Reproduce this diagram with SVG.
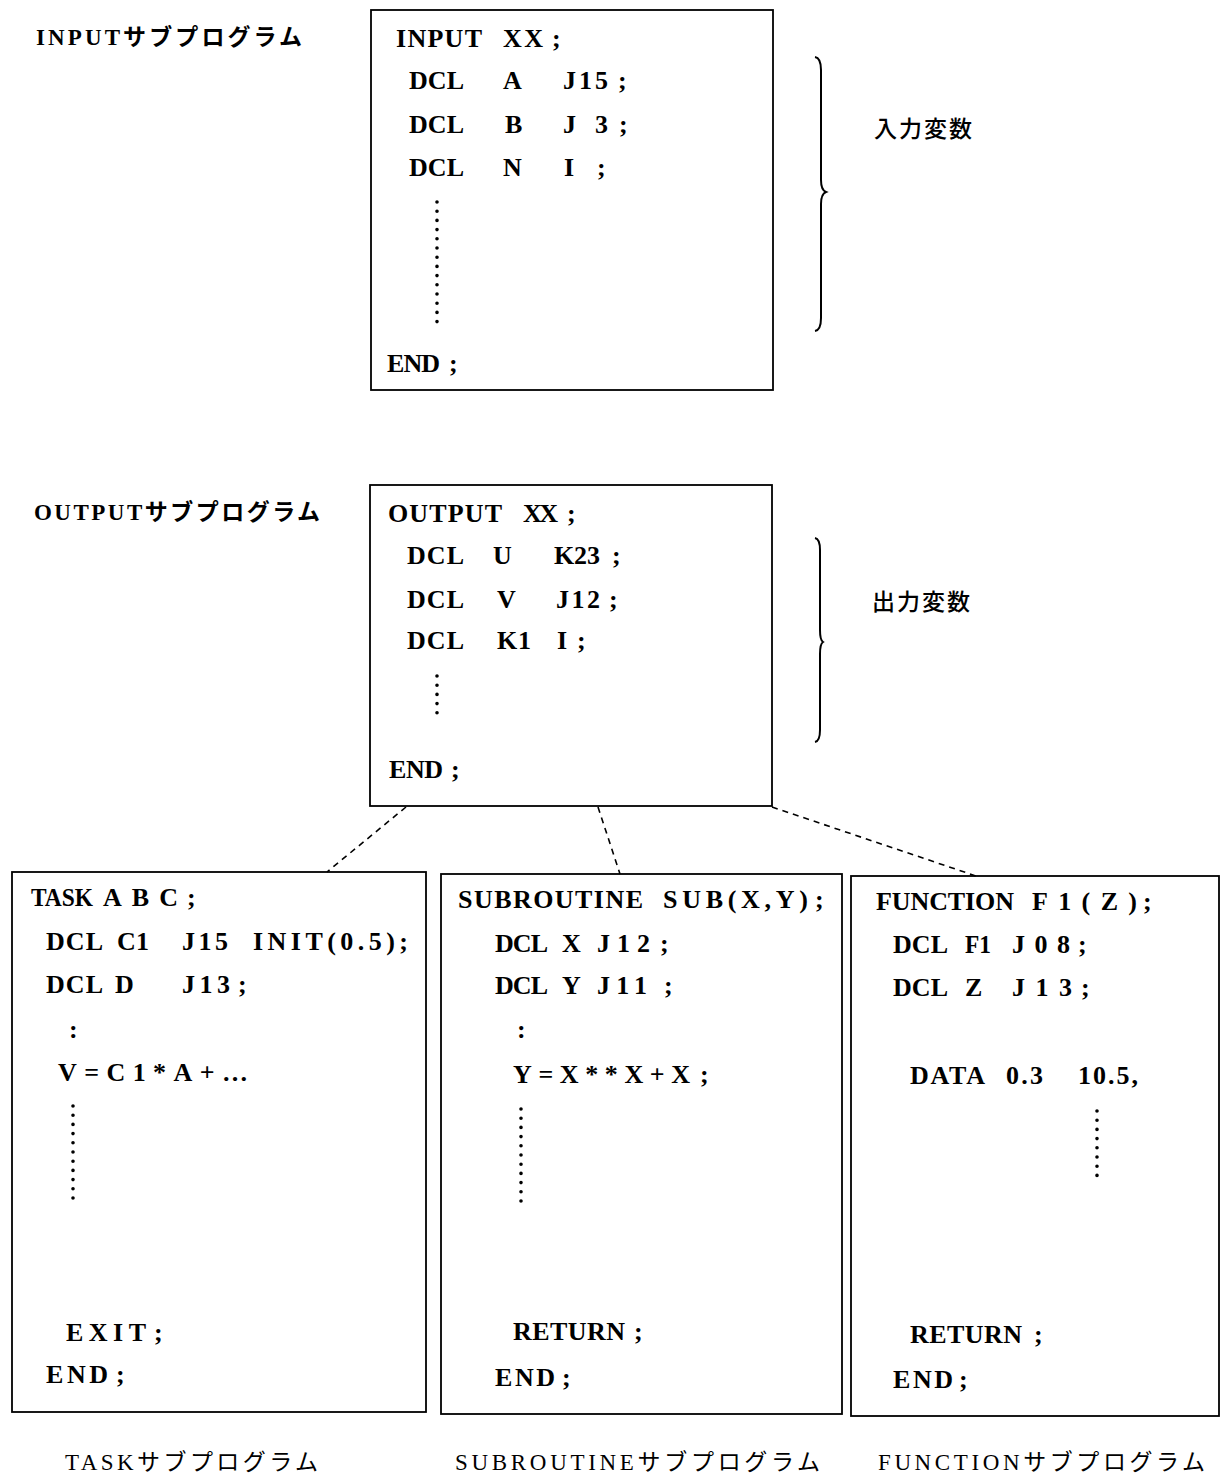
<svg xmlns="http://www.w3.org/2000/svg" width="1224" height="1475" viewBox="0 0 1224 1475">
<style>
.bg{fill:#fff}
.box{fill:none;stroke:#000;stroke-width:1.8}
.c{font-family:"Liberation Serif","Noto Sans CJK JP",serif;font-size:26px;font-weight:bold;fill:#000}
.lbl{font-family:"Liberation Serif","Noto Sans CJK JP",serif;font-size:23px;font-weight:bold;fill:#000}
.lbl2{font-family:"Liberation Serif","Noto Sans CJK JP",serif;font-size:23px;font-weight:normal;fill:#000}
.jp{font-family:"Noto Sans CJK JP",sans-serif;font-size:23px;font-weight:500;fill:#000}
.dots{fill:none;stroke:#000;stroke-width:3.6;stroke-linecap:round;stroke-dasharray:0 9.2}
.brace{fill:none;stroke:#000;stroke-width:2}
.conn{fill:none;stroke:#000;stroke-width:1.6;stroke-dasharray:6 5}
</style>
<rect class="bg" x="0" y="0" width="1224" height="1475"/>

<g id="connectors">
<line class="conn" x1="406" y1="807" x2="327" y2="872"/>
<line class="conn" x1="598" y1="807" x2="620" y2="874"/>
<line class="conn" x1="772" y1="807" x2="976" y2="876"/>
</g>

<g id="input">
<text class="lbl" x="36" y="45" textLength="266" lengthAdjust="spacing">INPUTサブプログラム</text>
<rect class="box" x="371" y="10" width="402" height="380"/>
<text class="c" x="396" y="47" textLength="86">INPUT</text>
<text class="c" x="503" y="47" textLength="40">XX</text>
<text class="c" x="552" y="47">;</text>
<text class="c" x="409" y="89" textLength="55">DCL</text>
<text class="c" x="503" y="89">A</text>
<text class="c" x="563" y="89" textLength="45">J15</text>
<text class="c" x="618" y="89">;</text>
<text class="c" x="409" y="133" textLength="55">DCL</text>
<text class="c" x="505" y="133">B</text>
<text class="c" x="563" y="133">J</text>
<text class="c" x="595" y="133">3</text>
<text class="c" x="619" y="133">;</text>
<text class="c" x="409" y="176" textLength="55">DCL</text>
<text class="c" x="503" y="176">N</text>
<text class="c" x="564" y="176">I</text>
<text class="c" x="597" y="176">;</text>
<line class="dots" x1="437" y1="202" x2="437" y2="326"/>
<text class="c" x="387" y="372" textLength="53">END</text>
<text class="c" x="449" y="372">;</text>
<path class="brace" d="M815,57 Q821,58 821,70 L821,180 Q821,190 826,192 Q821,194 821,204 L821,318 Q821,330 815,331"/>
<text class="jp" x="874" y="137" textLength="98" lengthAdjust="spacing">入力変数</text>
</g>

<g id="output">
<text class="lbl" x="34" y="520" textLength="286" lengthAdjust="spacing">OUTPUTサブプログラム</text>
<rect class="box" x="370" y="485" width="402" height="321"/>
<text class="c" x="388" y="522" textLength="114">OUTPUT</text>
<text class="c" x="523" y="522" textLength="35">XX</text>
<text class="c" x="567" y="522">;</text>
<text class="c" x="407" y="564" textLength="57">DCL</text>
<text class="c" x="493" y="564">U</text>
<text class="c" x="554" y="564" textLength="46">K23</text>
<text class="c" x="612" y="564">;</text>
<text class="c" x="407" y="608" textLength="57">DCL</text>
<text class="c" x="497" y="608">V</text>
<text class="c" x="556" y="608" textLength="44">J12</text>
<text class="c" x="609" y="608">;</text>
<text class="c" x="407" y="649" textLength="57">DCL</text>
<text class="c" x="497" y="649" textLength="34">K1</text>
<text class="c" x="557" y="649">I</text>
<text class="c" x="577" y="649">;</text>
<line class="dots" x1="437" y1="676" x2="437" y2="720"/>
<text class="c" x="389" y="778" textLength="54">END</text>
<text class="c" x="451" y="778">;</text>
<path class="brace" d="M815,538 Q820,539 820,550 L820,630 Q820,640 823,642 Q820,644 820,654 L820,730 Q820,741 815,742"/>
<text class="jp" x="872" y="610" textLength="98" lengthAdjust="spacing">出力変数</text>
</g>

<g id="task">
<rect class="box" x="12" y="872" width="414" height="540"/>
<text class="c" x="31" y="906" textLength="62" lengthAdjust="spacingAndGlyphs">TASK</text>
<text class="c" x="103" y="906" textLength="75">ABC</text>
<text class="c" x="187" y="906">;</text>
<text class="c" x="46" y="950" textLength="57">DCL</text>
<text class="c" x="117" y="950" textLength="32">C1</text>
<text class="c" x="182" y="950" textLength="46">J15</text>
<text class="c" x="253" y="950" textLength="155">INIT(0.5);</text>
<text class="c" x="46" y="993" textLength="57">DCL</text>
<text class="c" x="115" y="993">D</text>
<text class="c" x="182" y="993" textLength="48">J13</text>
<text class="c" x="238" y="993">;</text>
<text class="c" x="69" y="1038">:</text>
<text class="c" x="58" y="1081" textLength="190">V=C1*A+…</text>
<line class="dots" x1="73" y1="1106" x2="73" y2="1202"/>
<text class="c" x="66" y="1341" textLength="80">EXIT</text>
<text class="c" x="154" y="1341">;</text>
<text class="c" x="46" y="1383" textLength="62">END</text>
<text class="c" x="116" y="1383">;</text>
<text class="lbl2" x="65" y="1470" textLength="253" lengthAdjust="spacing">TASKサブプログラム</text>
</g>

<g id="subroutine">
<rect class="box" x="441" y="874" width="401" height="540"/>
<text class="c" x="458" y="908" textLength="185">SUBROUTINE</text>
<text class="c" x="663" y="908" textLength="145">SUB(X,Y)</text>
<text class="c" x="815" y="908">;</text>
<text class="c" x="495" y="952" textLength="53">DCL</text>
<text class="c" x="562" y="952">X</text>
<text class="c" x="597" y="952" textLength="53">J12</text>
<text class="c" x="660" y="952">;</text>
<text class="c" x="495" y="994" textLength="53">DCL</text>
<text class="c" x="562" y="994">Y</text>
<text class="c" x="597" y="994" textLength="50">J11</text>
<text class="c" x="664" y="994">;</text>
<text class="c" x="517" y="1038">:</text>
<text class="c" x="513" y="1083" textLength="177">Y=X**X+X</text>
<text class="c" x="700" y="1083">;</text>
<line class="dots" x1="521" y1="1109" x2="521" y2="1206"/>
<text class="c" x="513" y="1340" textLength="112">RETURN</text>
<text class="c" x="634" y="1340">;</text>
<text class="c" x="495" y="1386" textLength="60">END</text>
<text class="c" x="562" y="1386">;</text>
<text class="lbl2" x="455" y="1470" textLength="365" lengthAdjust="spacing">SUBROUTINEサブプログラム</text>
</g>

<g id="function">
<rect class="box" x="851" y="876" width="368" height="540"/>
<text class="c" x="876" y="910" textLength="138">FUNCTION</text>
<text class="c" x="1032" y="910" textLength="105">F1(Z)</text>
<text class="c" x="1143" y="910">;</text>
<text class="c" x="893" y="953" textLength="55">DCL</text>
<text class="c" x="965" y="953" textLength="26" lengthAdjust="spacingAndGlyphs">F1</text>
<text class="c" x="1012" y="953" textLength="58">J08</text>
<text class="c" x="1078" y="953">;</text>
<text class="c" x="893" y="996" textLength="55">DCL</text>
<text class="c" x="965" y="996">Z</text>
<text class="c" x="1012" y="996" textLength="60">J13</text>
<text class="c" x="1081" y="996">;</text>
<text class="c" x="910" y="1084" textLength="75">DATA</text>
<text class="c" x="1006" y="1084" textLength="37">0.3</text>
<text class="c" x="1078" y="1084" textLength="60">10.5,</text>
<line class="dots" x1="1097" y1="1111" x2="1097" y2="1183"/>
<text class="c" x="910" y="1343" textLength="112">RETURN</text>
<text class="c" x="1034" y="1343">;</text>
<text class="c" x="893" y="1388" textLength="60">END</text>
<text class="c" x="959" y="1388">;</text>
<text class="lbl2" x="878" y="1470" textLength="327" lengthAdjust="spacing">FUNCTIONサブプログラム</text>
</g>
</svg>
